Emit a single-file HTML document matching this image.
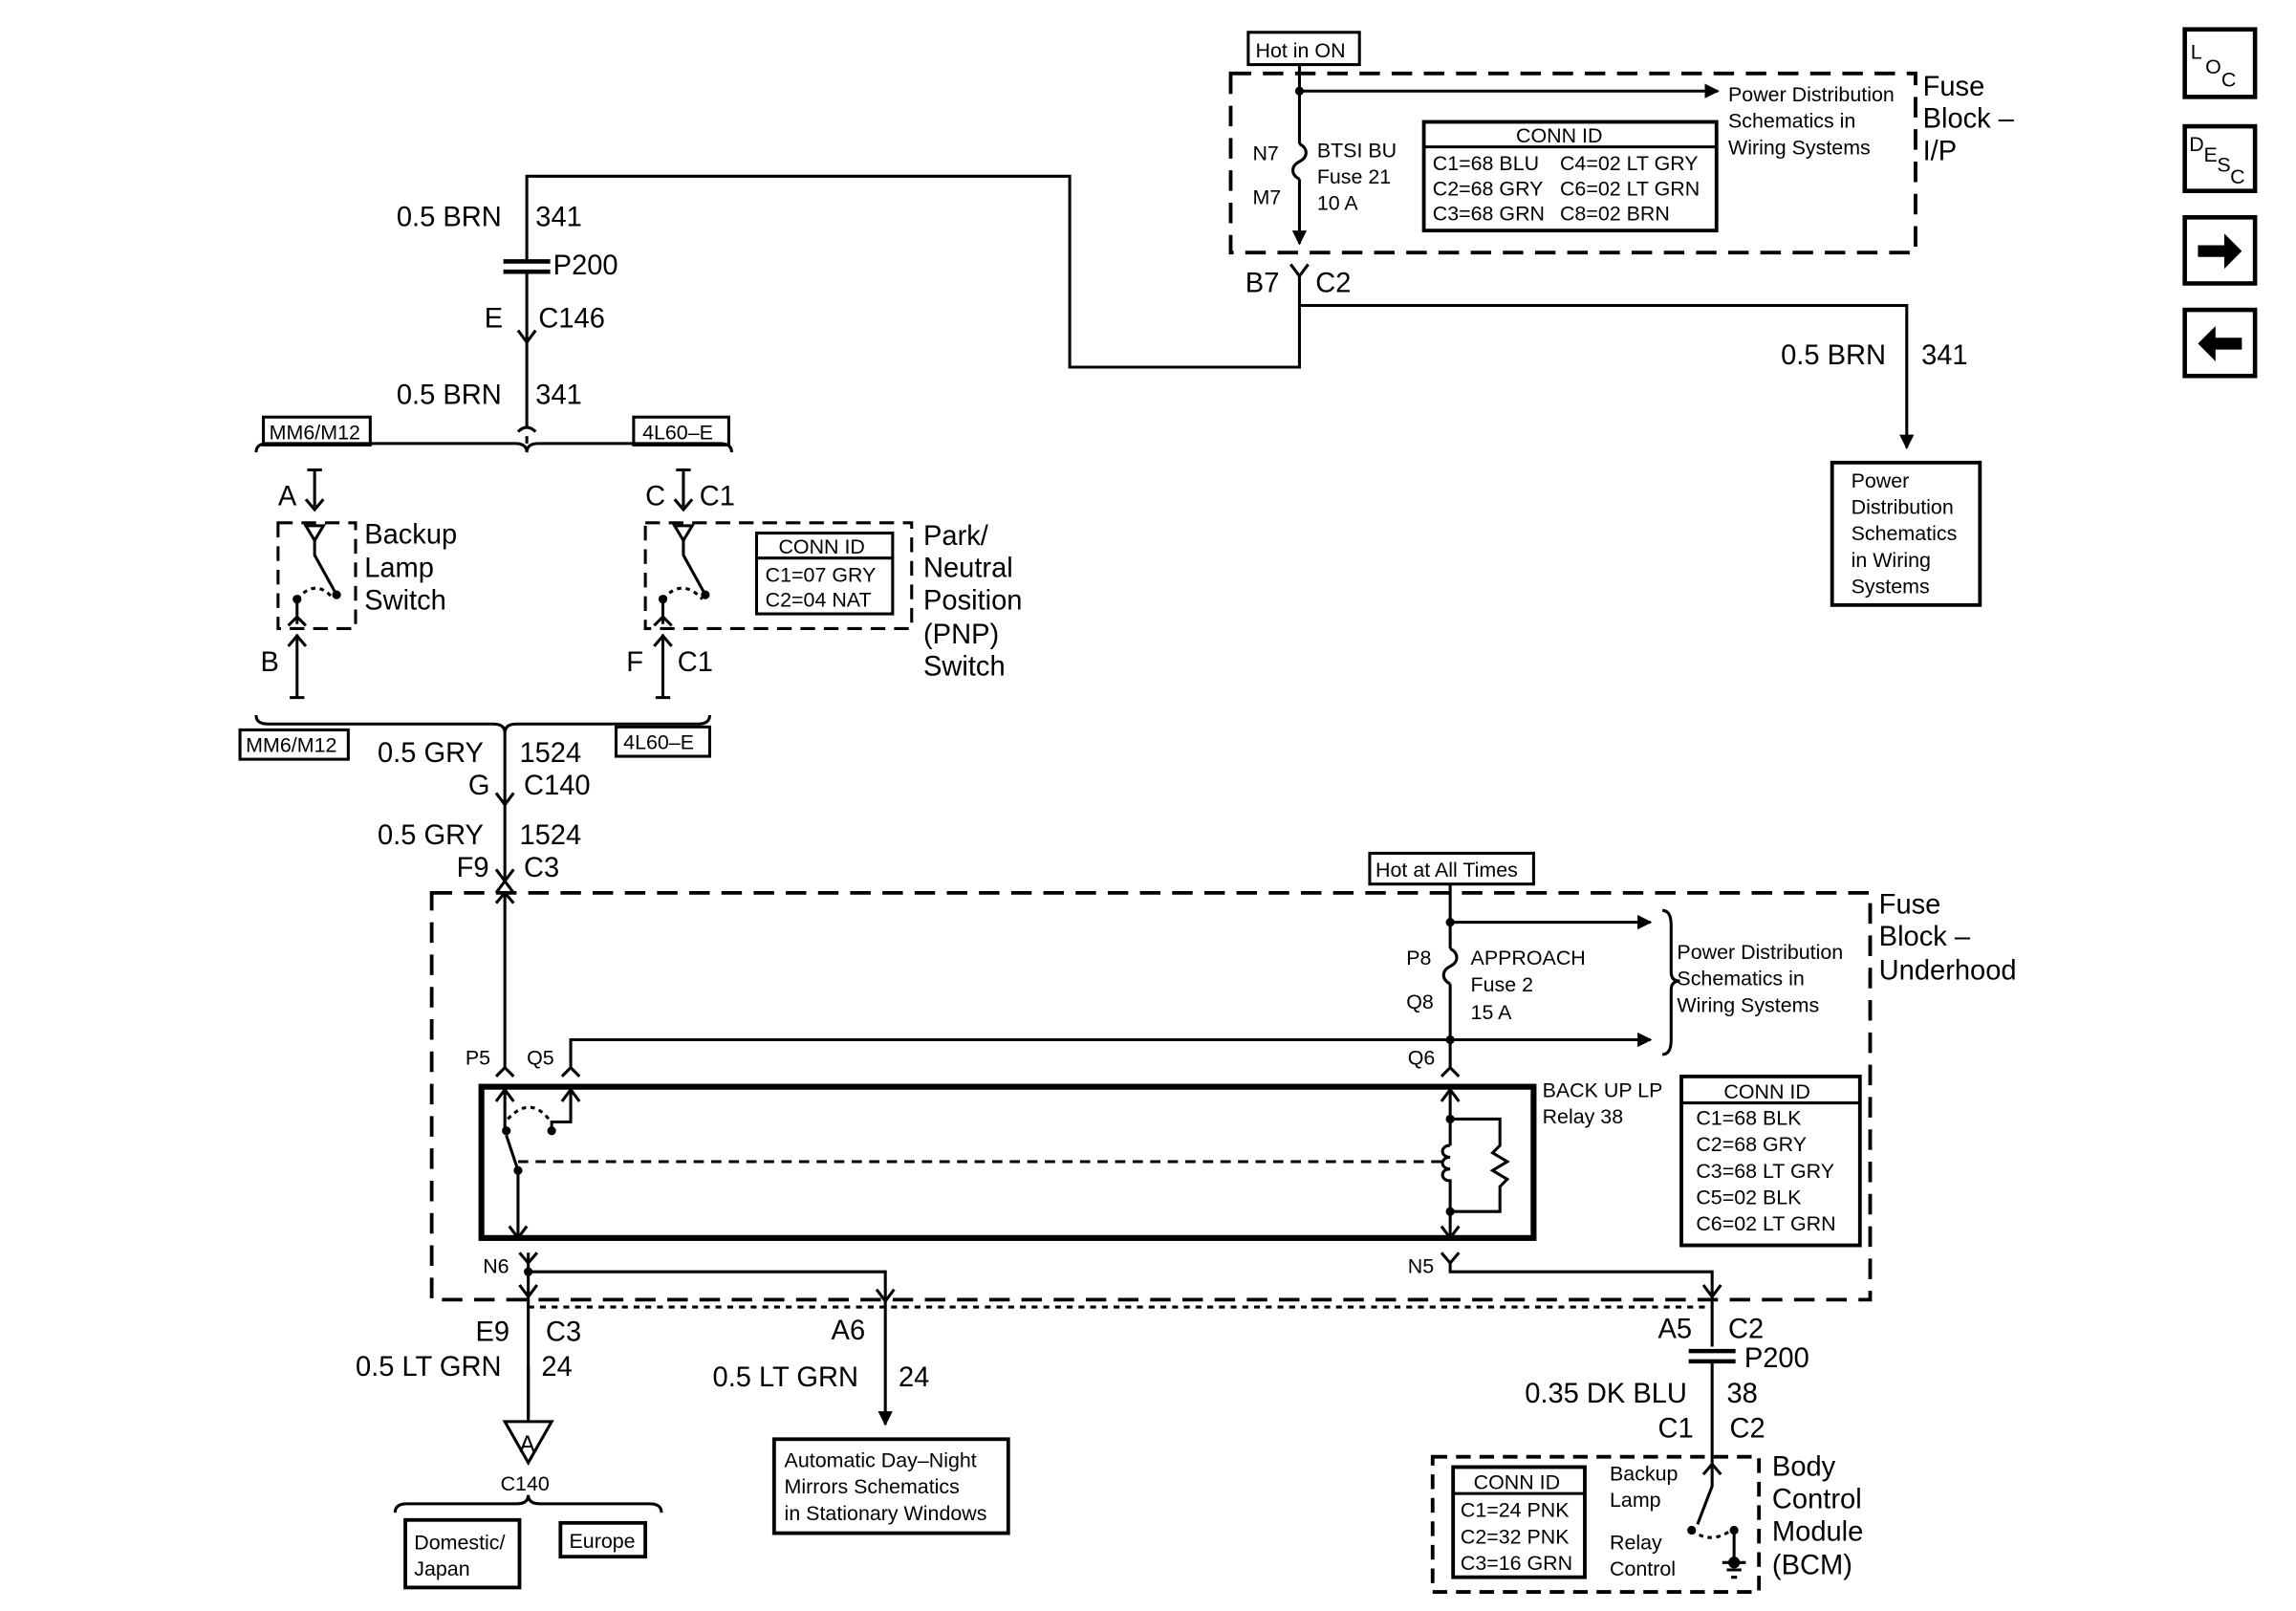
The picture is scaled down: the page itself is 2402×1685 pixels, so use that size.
<!DOCTYPE html>
<html><head><meta charset="utf-8"><style>
html,body{margin:0;padding:0;background:#fff;}
svg{display:block;}
text{font-family:"Liberation Sans",Arial,sans-serif;fill:#000;}
.b{font-size:19px;}
.s{font-size:14px;}
.m{font-size:16px;}
</style></head><body>
<svg width="2402" height="1685" viewBox="0 0 1569 1097" preserveAspectRatio="none" xmlns="http://www.w3.org/2000/svg">
<defs>
<marker id="ah" markerWidth="10" markerHeight="10" refX="9" refY="5" orient="auto" markerUnits="userSpaceOnUse"><path d="M0,0 L10,5 L0,10 z" fill="#000"/></marker>
</defs>
<g fill="none" stroke="#000" stroke-width="2">
<rect x="1493" y="20" width="48" height="46" stroke-width="3"/>
<rect x="1493" y="86" width="48" height="44" stroke-width="3"/>
<rect x="1493" y="148" width="48" height="45" stroke-width="3"/>
<rect x="1493" y="211" width="48" height="45" stroke-width="3"/>
</g>
<path d="M1502,167 h18 v-8 l12,12 l-12,12 v-8 h-18z" fill="#000"/>
<path d="M1532,230 h-18 v-8 l-12,12 l12,12 v-8 h18z" fill="#000"/>
<text x="1497" y="40" class="s">L</text><text x="1507" y="50" class="s">O</text><text x="1518" y="59" class="s">C</text>
<text x="1496" y="103" class="s">D</text><text x="1506" y="110" class="s">E</text><text x="1515" y="117" class="s">S</text><text x="1524" y="125" class="s">C</text>

<g fill="none" stroke="#000" stroke-width="2">
<rect x="853" y="22" width="76" height="22"/>
<rect x="841" y="50" width="468" height="122" stroke-dasharray="14,8" stroke-width="2.5"/>
<line x1="888" y1="44" x2="888" y2="98"/>
<path d="M888,98 c6,3 6,9 0,12 c-6,3 -6,9 0,12"/>
<line x1="888" y1="122" x2="888" y2="166" marker-end="url(#ah)"/>
<line x1="888" y1="62" x2="1174" y2="62" marker-end="url(#ah)"/>
<rect x="973" y="83" width="200" height="74" stroke-width="2.5"/>
<line x1="973" y1="100" x2="1173" y2="100"/>
<path d="M882,180 L888,188 L894,180 M888,188 V250 H731 V120 H360 V177"/>
<path d="M888,208 H1303 V305" marker-end="url(#ah)"/>
<rect x="1252" y="315" width="101" height="97" stroke-width="2.5"/>
<line x1="344" y1="178" x2="376" y2="178" stroke-width="3"/>
<line x1="344" y1="185" x2="376" y2="185" stroke-width="3"/>
<line x1="360" y1="185" x2="360" y2="233"/>
<path d="M354,225 L360,233 L366,225"/>
<path d="M360,233 V290 M354,294 q6,-6 12,0"/>
<path d="M360,297 V302"/>
<path d="M175,308 q0,-6 8,-6 H352 q8,0 8,6 q0,-6 8,-6 H492 q8,0 8,6"/>
<rect x="180" y="284" width="73" height="19"/>
<rect x="433" y="284" width="65" height="19"/>
<path d="M215,320 V345 M210,320 H220 M209,340 L215,347 L221,340"/>
<rect x="190" y="356" width="53" height="72" stroke-dasharray="10,6"/>
<path d="M209,358 H221 L215,368 Z M215,368 V378 L230,405"/>
<path d="M203,408 q13,-15 25,0" stroke-dasharray="3,3"/>
<path d="M203,408 V425 M197,426 L203,420 L209,426"/>
<path d="M203,432 V475 M198,475 H208 M197,440 L203,433 L209,440"/>
<path d="M467,320 V345 M462,320 H472 M461,340 L467,347 L473,340"/>
<rect x="441" y="356" width="182" height="72" stroke-dasharray="10,6"/>
<path d="M461,358 H473 L467,368 Z M467,368 V378 L482,405"/>
<path d="M453,408 q13,-15 27,0" stroke-dasharray="3,3"/>
<path d="M453,408 V425 M447,426 L453,420 L459,426"/>
<rect x="517" y="363" width="93" height="55"/>
<line x1="517" y1="380" x2="610" y2="380"/>
<path d="M453,432 V475 M448,475 H458 M447,440 L453,433 L459,440"/>
<path d="M175,487 q0,6 8,6 H337 q8,0 8,6 q0,-6 8,-6 H477 q8,0 8,-6"/>
<rect x="164" y="497" width="74" height="20"/>
<rect x="421" y="495" width="64" height="20"/>
<path d="M345,499 V548 M339,540 L345,548 L351,540"/>
<path d="M345,548 V600 M339,592 L345,600 L351,592 M339,608 L345,600 L351,608"/>
<rect x="295" y="608" width="983" height="277" stroke-dasharray="14,8" stroke-width="2.5"/>
<rect x="936" y="581" width="112" height="21"/>
<line x1="991" y1="602" x2="991" y2="646"/>
<path d="M991,646 c6,3 6,9 0,12 c-6,3 -6,9 0,12"/>
<line x1="991" y1="670" x2="991" y2="727"/>
<path d="M985,733 L991,727 L997,733"/>
<line x1="991" y1="628" x2="1128" y2="628" marker-end="url(#ah)"/>
<line x1="991" y1="708" x2="1128" y2="708" marker-end="url(#ah)"/>
<path d="M390,727 V708 H991"/>
<path d="M384,733 L390,727 L396,733"/>
<path d="M1136,620 q6,0 6,10 V662 q0,6 6,6 q-6,0 -6,6 V708 q0,10 -6,10"/>
<path d="M345,608 V727 M339,615 L345,608 L351,615 M339,733 L345,727 L351,733"/>
<rect x="329" y="740" width="719" height="103" stroke-width="4"/>
<path d="M345,742 V770 M339,750 L345,742 L351,750"/>
<path d="M390,742 V764 H377 V770 M384,750 L390,742 L396,750"/>
<path d="M347,762 q15,-16 28,0" stroke-dasharray="3,3"/>
<path d="M346,773 L354,797 M354,797 V843 M348,835 L354,843 L360,835"/>
<line x1="354" y1="791" x2="986" y2="791" stroke-dasharray="7,5"/>
<path d="M991,742 V780 M985,750 L991,742 L997,750"/>
<path d="M991,762 H1025 V780 l-5,5 l10,6 l-10,6 l10,6 l-5,5 V825 H991"/>
<path d="M991,780 c-7,0 -7,8 0,8 c-7,0 -7,8 0,8 c-7,0 -7,8 0,8 V843 M985,835 L991,843 L997,835"/>
<rect x="1149" y="733" width="122" height="115" stroke-width="2.5"/>
<line x1="1149" y1="751" x2="1271" y2="751"/>
<path d="M361,853 V965 M355,853 L361,860 L367,853 M355,875 L361,883 L367,875"/>
<path d="M361,866 H605 V970" marker-end="url(#ah)"/>
<path d="M599,878 L605,886 L611,878"/>
<path d="M991,860 V866 H1170 V917 M985,853 L991,860 L997,853 M1164,875 L1170,883 L1176,875"/>
<line x1="361" y1="890" x2="1170" y2="890" stroke-dasharray="4,4"/>
<path d="M345,968 H377 L361,996 Z"/>
<line x1="361" y1="930" x2="361" y2="968"/>
<path d="M270,1030 q0,-6 8,-6 H353 q8,0 8,-6 q0,6 8,6 H444 q8,0 8,6"/>
<rect x="277" y="1035" width="78" height="46" stroke-width="2.5"/>
<rect x="383" y="1037" width="58" height="23" stroke-width="2.5"/>
<rect x="529" y="980" width="160" height="64" stroke-width="2.5"/>
<line x1="1154" y1="920" x2="1186" y2="920" stroke-width="3"/>
<line x1="1154" y1="927" x2="1186" y2="927" stroke-width="3"/>
<path d="M1170,927 V1000"/>
<rect x="979" y="992" width="223" height="92" stroke-dasharray="10,6" stroke-width="2.5"/>
<rect x="993" y="999" width="90" height="75" stroke-width="2.5"/>
<line x1="993" y1="1017" x2="1083" y2="1017"/>
<path d="M1164,1004 L1170,997 L1176,1004 M1170,1000 V1012 L1160,1038"/>
<path d="M1156,1042 q13,10 27,0" stroke-dasharray="3,3"/>
<path d="M1185,1042 V1062 M1177,1064 H1193 M1180,1069 H1190 M1183,1074 H1187"/>
</g>
<circle cx="888" cy="62" r="3"/><circle cx="991" cy="628" r="3"/><circle cx="991" cy="708" r="3"/>
<circle cx="361" cy="866" r="3"/><circle cx="203" cy="408" r="3"/><circle cx="230" cy="405" r="3"/>
<circle cx="453" cy="408" r="3"/><circle cx="482" cy="405" r="3"/><circle cx="346" cy="770" r="3"/>
<circle cx="377" cy="770" r="3"/><circle cx="354" cy="797" r="3"/><circle cx="991" cy="762" r="3"/>
<circle cx="991" cy="825" r="3"/><circle cx="1156" cy="1042" r="3"/><circle cx="1185" cy="1042" r="3"/>
<circle cx="1185" cy="1064" r="4"/>

<text x="858" y="39" class="s">Hot in ON</text>
<text x="1181" y="69" class="s">Power Distribution</text>
<text x="1181" y="87" class="s">Schematics in</text>
<text x="1181" y="105" class="s">Wiring Systems</text>
<text x="1314" y="65" class="b">Fuse</text><text x="1314" y="87" class="b">Block –</text><text x="1314" y="109" class="b">I/P</text>
<text x="856" y="109" class="s">N7</text><text x="856" y="139" class="s">M7</text>
<text x="900" y="107" class="s">BTSI BU</text><text x="900" y="125" class="s">Fuse 21</text><text x="900" y="143" class="s">10 A</text>
<text x="1036" y="97" class="s">CONN ID</text>
<text x="979" y="116" class="s">C1=68 BLU</text><text x="1066" y="116" class="s">C4=02 LT GRY</text>
<text x="979" y="133" class="s">C2=68 GRY</text><text x="1066" y="133" class="s">C6=02 LT GRN</text>
<text x="979" y="150" class="s">C3=68 GRN</text><text x="1066" y="150" class="s">C8=02 BRN</text>
<text x="851" y="199" class="b">B7</text><text x="899" y="199" class="b">C2</text>
<text x="1217" y="248" class="b">0.5 BRN</text><text x="1313" y="248" class="b">341</text>
<text x="1265" y="332" class="s">Power</text><text x="1265" y="350" class="s">Distribution</text><text x="1265" y="368" class="s">Schematics</text><text x="1265" y="386" class="s">in Wiring</text><text x="1265" y="404" class="s">Systems</text>
<text x="271" y="154" class="b">0.5 BRN</text><text x="366" y="154" class="b">341</text>
<text x="378" y="187" class="b">P200</text>
<text x="331" y="223" class="b">E</text><text x="368" y="223" class="b">C146</text>
<text x="271" y="275" class="b">0.5 BRN</text><text x="366" y="275" class="b">341</text>
<text x="184" y="299" class="s">MM6/M12</text><text x="439" y="299" class="s">4L60–E</text>
<text x="190" y="344" class="b">A</text>
<text x="249" y="370" class="b">Backup</text><text x="249" y="393" class="b">Lamp</text><text x="249" y="415" class="b">Switch</text>
<text x="178" y="457" class="b">B</text>
<text x="441" y="344" class="b">C</text><text x="478" y="344" class="b">C1</text>
<text x="532" y="377" class="s">CONN ID</text><text x="523" y="396" class="s">C1=07 GRY</text><text x="523" y="413" class="s">C2=04 NAT</text>
<text x="631" y="371" class="b">Park/</text><text x="631" y="393" class="b">Neutral</text><text x="631" y="415" class="b">Position</text><text x="631" y="438" class="b">(PNP)</text><text x="631" y="460" class="b">Switch</text>
<text x="428" y="457" class="b">F</text><text x="463" y="457" class="b">C1</text>
<text x="168" y="512" class="s">MM6/M12</text><text x="426" y="510" class="s">4L60–E</text>
<text x="258" y="519" class="b">0.5 GRY</text><text x="355" y="519" class="b">1524</text>
<text x="320" y="541" class="b">G</text><text x="358" y="541" class="b">C140</text>
<text x="258" y="575" class="b">0.5 GRY</text><text x="355" y="575" class="b">1524</text>
<text x="312" y="597" class="b">F9</text><text x="358" y="597" class="b">C3</text>
<text x="940" y="597" class="s">Hot at All Times</text>
<text x="1284" y="622" class="b">Fuse</text><text x="1284" y="644" class="b">Block –</text><text x="1284" y="667" class="b">Underhood</text>
<text x="961" y="657" class="s">P8</text><text x="961" y="687" class="s">Q8</text>
<text x="1005" y="657" class="s">APPROACH</text><text x="1005" y="675" class="s">Fuse 2</text><text x="1005" y="694" class="s">15 A</text>
<text x="1146" y="653" class="s">Power Distribution</text><text x="1146" y="671" class="s">Schematics in</text><text x="1146" y="689" class="s">Wiring Systems</text>
<text x="318" y="725" class="s">P5</text><text x="360" y="725" class="s">Q5</text><text x="962" y="725" class="s">Q6</text>
<text x="1054" y="747" class="s">BACK UP LP</text><text x="1054" y="765" class="s">Relay 38</text>
<text x="1178" y="748" class="s">CONN ID</text>
<text x="1159" y="766" class="s">C1=68 BLK</text><text x="1159" y="784" class="s">C2=68 GRY</text><text x="1159" y="802" class="s">C3=68 LT GRY</text><text x="1159" y="820" class="s">C5=02 BLK</text><text x="1159" y="838" class="s">C6=02 LT GRN</text>
<text x="330" y="867" class="s">N6</text><text x="962" y="867" class="s">N5</text>
<text x="325" y="913" class="b">E9</text><text x="373" y="913" class="b">C3</text>
<text x="243" y="937" class="b">0.5 LT GRN</text><text x="370" y="937" class="b">24</text>
<text x="355" y="989" class="m">A</text>
<text x="342" y="1015" class="s">C140</text>
<text x="283" y="1055" class="s">Domestic/</text><text x="283" y="1073" class="s">Japan</text>
<text x="389" y="1054" class="s">Europe</text>
<text x="568" y="912" class="b">A6</text>
<text x="487" y="944" class="b">0.5 LT GRN</text><text x="614" y="944" class="b">24</text>
<text x="536" y="999" class="s">Automatic Day–Night</text><text x="536" y="1017" class="s">Mirrors Schematics</text><text x="536" y="1035" class="s">in Stationary Windows</text>
<text x="1133" y="911" class="b">A5</text><text x="1181" y="911" class="b">C2</text>
<text x="1192" y="931" class="b">P200</text>
<text x="1042" y="955" class="b">0.35 DK BLU</text><text x="1180" y="955" class="b">38</text>
<text x="1133" y="979" class="b">C1</text><text x="1182" y="979" class="b">C2</text>
<text x="1007" y="1014" class="s">CONN ID</text><text x="998" y="1033" class="s">C1=24 PNK</text><text x="998" y="1051" class="s">C2=32 PNK</text><text x="998" y="1069" class="s">C3=16 GRN</text>
<text x="1100" y="1008" class="s">Backup</text><text x="1100" y="1026" class="s">Lamp</text>
<text x="1100" y="1055" class="s">Relay</text><text x="1100" y="1073" class="s">Control</text>
<text x="1211" y="1005" class="b">Body</text><text x="1211" y="1027" class="b">Control</text><text x="1211" y="1049" class="b">Module</text><text x="1211" y="1072" class="b">(BCM)</text>
</svg>
</body></html>
